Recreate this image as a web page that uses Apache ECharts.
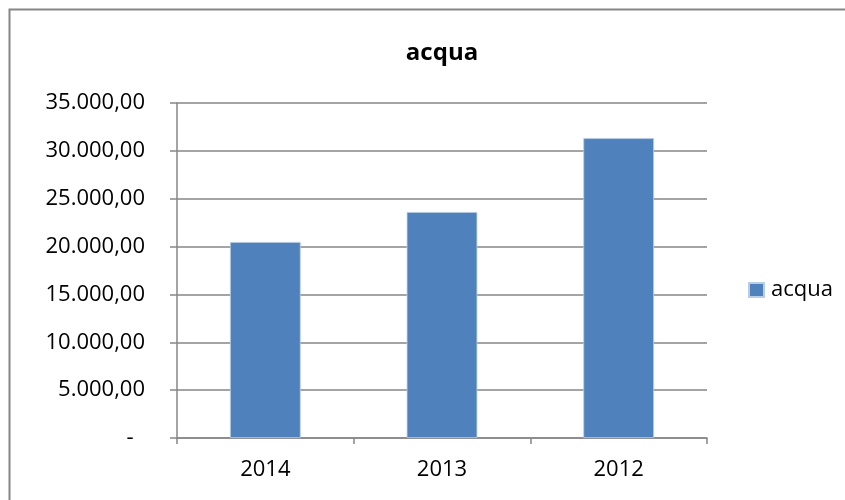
<!DOCTYPE html>
<html>
<head>
<meta charset="utf-8">
<script src="https://cdn.jsdelivr.net/npm/echarts@6/dist/echarts.min.js"></script>
<style>
  html, body { margin: 0; padding: 0; background: #fff; }
  #chart { width: 845px; height: 500px; }
</style>
</head>
<body>
<div id="chart"></div>
<script>
// Annual water cost by year
const years = ['2014', '2013', '2012'];
const acqua = [20480, 23610, 31320];
const seriesName = 'acqua';
const chartTitle = 'acqua';

const FONT = '"Open Sans", "Liberation Sans", sans-serif';
const GRID = '#868686';

// Italian accounting format: thousands with '.', decimals with ',', zero as a dash
function itNumber(v) {
  if (v === 0) return '-  ';
  const s = Math.round(v).toString().replace(/\B(?=(\d{3})+(?!\d))/g, '.');
  return s + ',00';
}

const chart = echarts.init(document.getElementById('chart'));
chart.setOption({
  animation: false,
  title: {
    text: chartTitle,
    left: 437,
    textAlign: 'center',
    top: 36,
    textStyle: { fontFamily: FONT, fontSize: 24, fontWeight: 'bold', color: '#000' }
  },
  legend: {
    data: [seriesName],
    orient: 'vertical',
    left: 743,
    top: 274,
    itemWidth: 15,
    itemHeight: 14,
    itemGap: 4,
    textStyle: { fontFamily: FONT, fontSize: 22, color: '#000', padding: [0, 0, 0, 2] },
    icon: 'rect'
  },
  graphic: [{
    type: 'rect',
    shape: { x: 9.5, y: 9.5, width: 2000, height: 2000 },
    style: { fill: 'none', stroke: GRID, lineWidth: 2 },
    silent: true
  }],
  grid: { left: 177, right: 138, top: 103, bottom: 62, containLabel: false },
  xAxis: {
    type: 'category',
    data: years,
    axisLine: { lineStyle: { color: GRID, width: 1.5 } },
    axisTick: { show: true, length: 6, lineStyle: { color: GRID, width: 1.5 } },
    axisLabel: { fontFamily: FONT, fontSize: 22, color: '#000', margin: 21 }
  },
  yAxis: {
    type: 'value',
    min: 0,
    max: 35000,
    interval: 5000,
    axisLine: { show: true, lineStyle: { color: GRID, width: 1.5 } },
    axisTick: { show: true, length: 7, lineStyle: { color: GRID, width: 1.5 } },
    splitLine: { lineStyle: { color: GRID, width: 1.5 } },
    axisLabel: {
      fontFamily: FONT, fontSize: 22, color: '#000', margin: 32,
      formatter: itNumber
    }
  },
  series: [{
    name: seriesName,
    type: 'bar',
    data: acqua,
    barWidth: '40%',
    itemStyle: { color: '#4F81BD', borderColor: '#B9CDE5', borderWidth: 0.8 }
  }]
});
</script>
</body>
</html>
